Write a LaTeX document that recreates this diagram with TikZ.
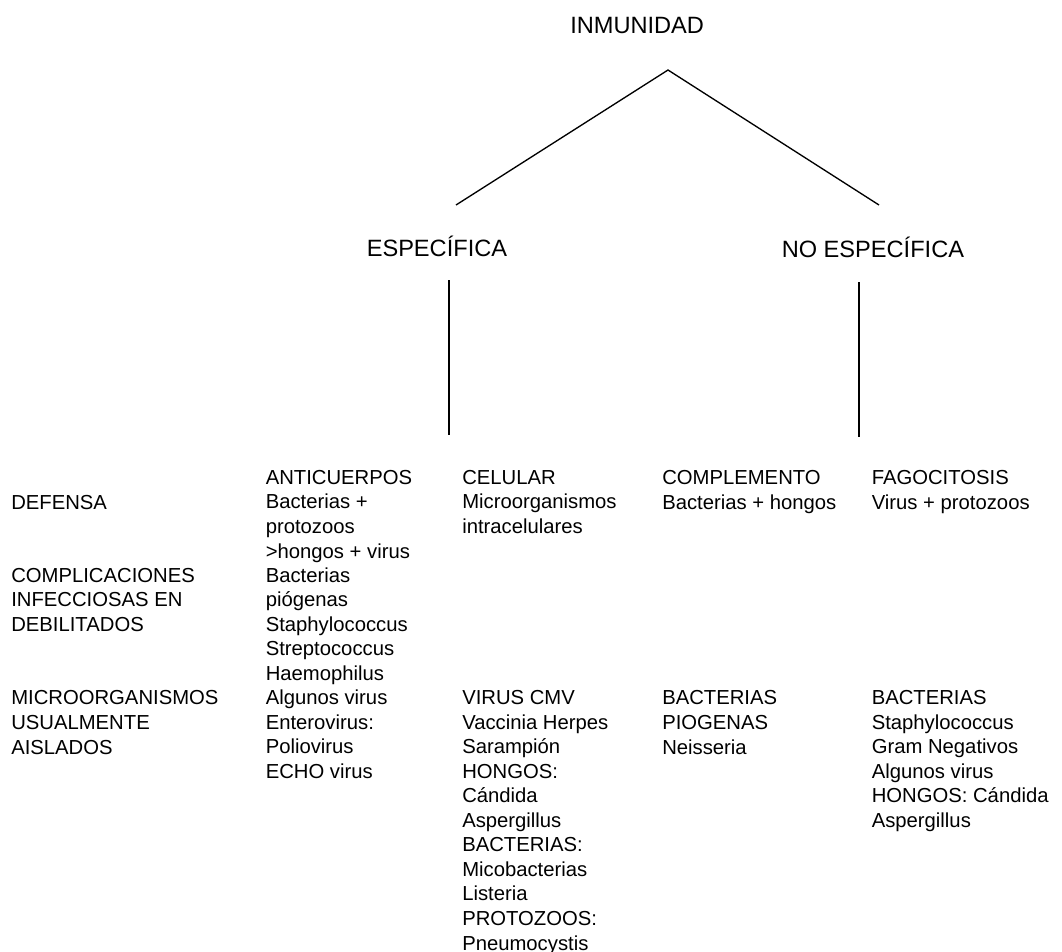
\documentclass[tikz,border=0pt]{standalone}
\usepackage{fontspec}
\setmainfont{Liberation Sans}
\definecolor{tinta}{HTML}{000000}
% base de la fila n de la tabla (la ultima linea de cada celda)
\newcommand{\fila}[1]{{484.5+24.5*(#1)}}

\begin{document}
\begin{tikzpicture}[x=0.75pt,y=-0.75pt,
  celda/.style={anchor=base west,inner sep=0pt,align=left,text=tinta,
    font=\fontsize{15.2}{18.4}\selectfont},
  titulo/.style={anchor=base west,inner sep=0pt,text=tinta,
    font=\fontsize{17.7}{21}\selectfont},
  rama/.style={draw=tinta,line width=1pt}]
  \useasboundingbox (0,0) rectangle (1062,951);
  % titulos
  \node[titulo] (inmunidad) at (570,33) {INMUNIDAD};
  \node[titulo] (especifica) at (366.5,256) {ESPECÍFICA};
  \node[titulo] (noespecifica) at (781.5,257) {NO ESPECÍFICA};
  % ramas
  \coordinate (vertice) at (668,70);
  \coordinate (ramaA) at (456,205);
  \coordinate (ramaB) at (879,205);
  \coordinate (bajaA1) at (449,280);
  \coordinate (bajaA2) at (449,435);
  \coordinate (bajaB1) at (859,282);
  \coordinate (bajaB2) at (859,437);
  \draw[rama] (ramaA) -- (vertice) -- (ramaB);
  \draw[rama] (bajaA1) -- (bajaA2);
  \draw[rama] (bajaB1) -- (bajaB2);
  % tabla: primera columna
  \node[celda] (defensa) at (11,\fila{1}) {DEFENSA};
  \node[celda] (complicaciones) at (11,\fila{6}) {COMPLICACIONES\\INFECCIOSAS EN\\DEBILITADOS};
  \node[celda] (aislados) at (11,\fila{11}) {MICROORGANISMOS\\USUALMENTE\\AISLADOS};
  % anticuerpos
  \node[celda] (anticuerpos) at (265.5,\fila{3}) {ANTICUERPOS\\Bacterias +\\protozoos\\>hongos + virus};
  \node[celda] (piogenas) at (265.5,\fila{8}) {Bacterias\\piógenas\\Staphylococcus\\Streptococcus\\Haemophilus};
  \node[celda] (virusA) at (265.5,\fila{12}) {Algunos virus\\Enterovirus:\\Poliovirus\\ECHO virus};
  % celular
  \node[celda] (celular) at (462,\fila{2}) {CELULAR\\Microorganismos\\intracelulares};
  \node[celda] (virusB) at (462,\fila{19}) {VIRUS CMV\\Vaccinia Herpes\\Sarampión\\HONGOS:\\Cándida\\Aspergillus\\BACTERIAS:\\Micobacterias\\Listeria\\PROTOZOOS:\\Pneumocystis};
  % complemento
  \node[celda] (complemento) at (662,\fila{1}) {COMPLEMENTO\\Bacterias + hongos};
  \node[celda] (piogenasB) at (662,\fila{11}) {BACTERIAS\\PIOGENAS\\Neisseria};
  % fagocitosis
  \node[celda] (fagocitosis) at (871.5,\fila{1}) {FAGOCITOSIS\\Virus + protozoos};
  \node[celda] (bacteriasC) at (871.5,\fila{14}) {BACTERIAS\\Staphylococcus\\Gram Negativos\\Algunos virus\\HONGOS: Cándida\\Aspergillus};
\end{tikzpicture}
\end{document}
